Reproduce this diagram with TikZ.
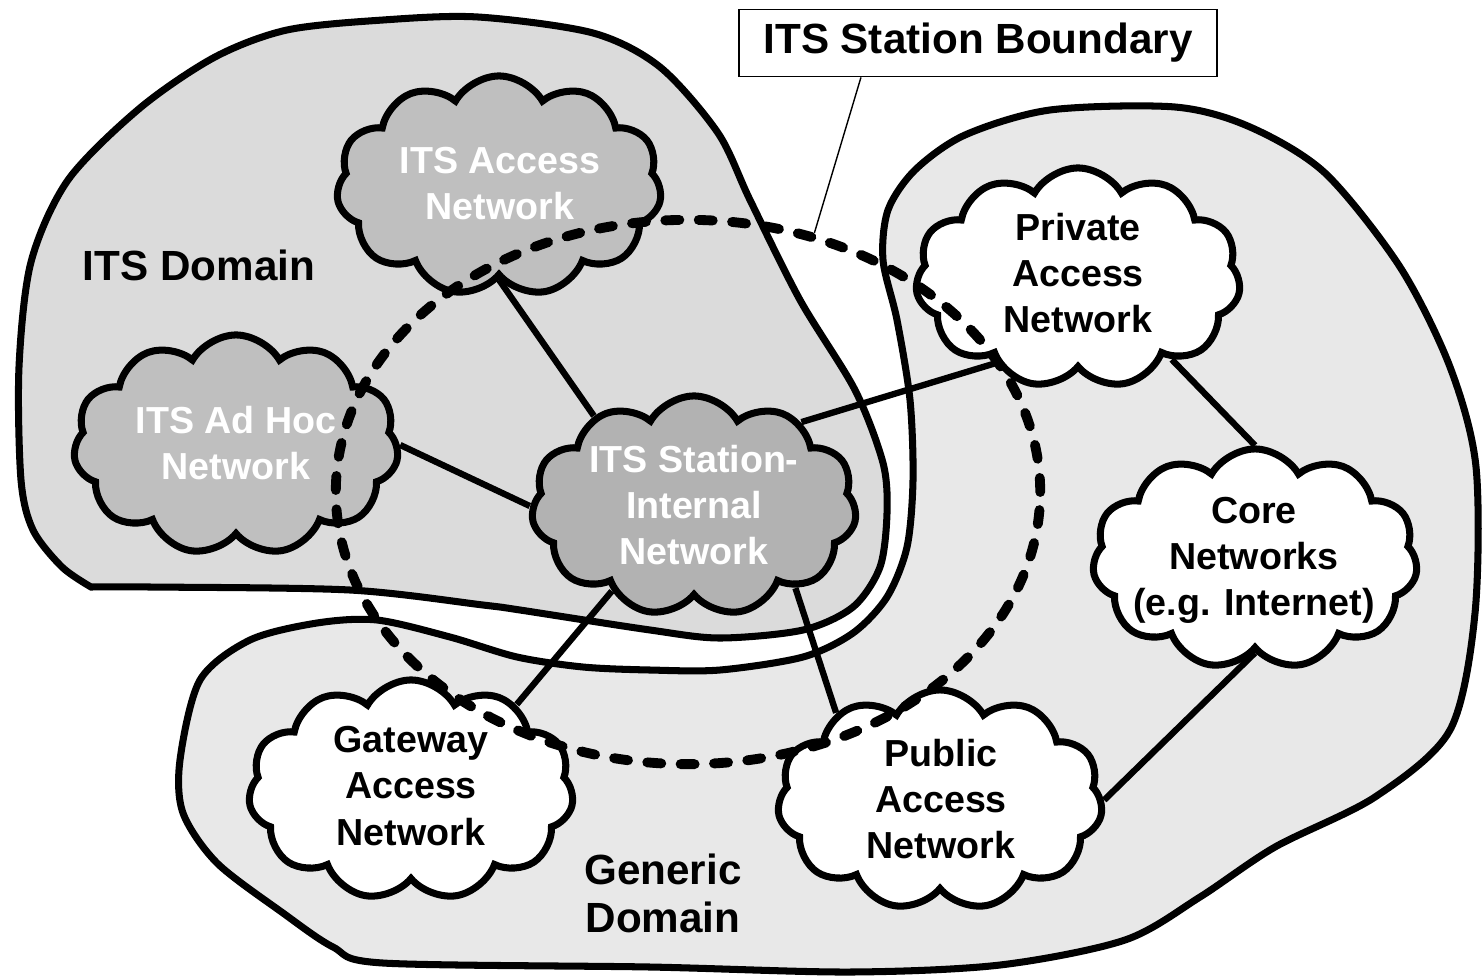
\documentclass[tikz,border=0pt]{standalone}
\usepackage{fontspec}
\setmainfont{Liberation Sans}
\usetikzlibrary{shapes.symbols,shapes.geometric}

\definecolor{itsfill}{gray}{0.86}
\definecolor{genfill}{gray}{0.91}
\definecolor{accgray}{gray}{0.75}
\definecolor{stngray}{gray}{0.70}

\begin{document}
\begin{tikzpicture}[ x=0.01cm, y=-0.01cm,
  regionline/.style={draw=black, line width=2pt},
  netcloud/.style={cloud, cloud puffs=11, cloud puff arc=120, cloud ignores aspect, draw=black, line width=2pt, minimum width=3.25cm, minimum height=2.2cm, inner sep=0pt},
  nettext/.style={align=center, font=\bfseries\fontsize{10.7}{13.1}\selectfont, inner sep=0pt},
  domtext/.style={align=center, font=\bfseries\fontsize{12}{13.6}\selectfont, inner sep=0pt},
  netlink/.style={line width=1.8pt},
]
\useasboundingbox (0,0) rectangle (1483,979);

\draw[regionline, fill=genfill] plot[smooth cycle] coordinates {(180,760) (200,680) (250,640) (317,623) (377,620) (450,637) (517,657) (583,667) (650,670) (720,670) (803,657) (853,633) (887,597) (907,547) (913,480) (910,400) (897,320) (883,260) (888,210) (915,170) (965,135) (1050,110) (1175,107) (1250,127) (1325,173) (1400,267) (1450,367) (1476,467) (1475,613) (1450,730) (1375,797) (1275,847) (1200,897) (1125,940) (1000,965) (850,972) (650,967) (383,963) (333,947) (283,913) (217,863) (183,813)};

\draw[regionline, fill=itsfill] plot[smooth] coordinates {(91,587) (62,567) (33,530) (21,480) (19,367) (31,262) (68,180) (140,108) (215,57) (287,30) (383,20) (478,17) (593,33) (660,67) (718,133) (750,200) (800,300) (855,390) (883,463) (887,513) (880,567) (853,607) (803,630) (720,638) (650,630) (520,610) (483,605) (350,590) (150,587) (91,587)} -- cycle;

\node[domtext] (itsd) at (199,265) {ITS Domain};
\node[domtext] (gend) at (663,893) {Generic\\Domain};

\node[netcloud, fill=accgray] (acc) at (499,186) {};
\node[netcloud, fill=accgray] (adh) at (236,445) {};
\node[netcloud, fill=stngray] (stn) at (694,506) {};
\node[netcloud, fill=white] (prv) at (1078,278) {};
\node[netcloud, fill=white] (core) at (1255,559) {};
\node[netcloud, fill=white] (gw) at (411,790) {};
\node[netcloud, fill=white] (pub) at (940,800) {};

\node[nettext, white] (acc-t) at (500,184) {ITS Access\\Network};
\node[nettext, white] (adh-t) at (236,443) {ITS Ad Hoc\\Network};
\node[nettext, white] (stn-t) at (694,505) {ITS Station-\\Internal\\Network};
\node[nettext] (prv-t) at (1078,273) {Private\\Access\\Network};
\node[nettext] (core-t) at (1254,560) {Core\\Networks\\(e.g. Internet)};
\node[nettext] (gw-t) at (411,786) {Gateway\\Access\\Network};
\node[nettext] (pub-t) at (941,799) {Public\\Access\\Network};

\draw[netlink] (acc.-90) -- (stn.138);
\draw[netlink] (adh.0) -- (stn.180);
\draw[netlink] (stn.38) -- (prv.226);
\draw[netlink] (stn.226) -- (gw.39);
\draw[netlink] (stn.-39) -- (pub.140);
\draw[netlink] (prv.-41) -- (core.90);
\draw[netlink] (core.-90) -- (pub.0);

\node[ellipse, draw, line width=2.8pt, dash pattern=on 4pt off 5.5pt, line cap=round, minimum width=7.04cm, minimum height=5.44cm, inner sep=0pt] (bnd) at (688,492) {};

\node[draw, fill=white, line width=0.5pt, minimum width=4.78cm, minimum height=0.67cm, inner sep=0pt, font=\bfseries\fontsize{12}{13.6}\selectfont] (lbl) at (978,43) {ITS Station Boundary};
\draw[line width=0.4pt] ([xshift=-1.17cm]lbl.south) -- (bnd.64);

\end{tikzpicture}
\end{document}
